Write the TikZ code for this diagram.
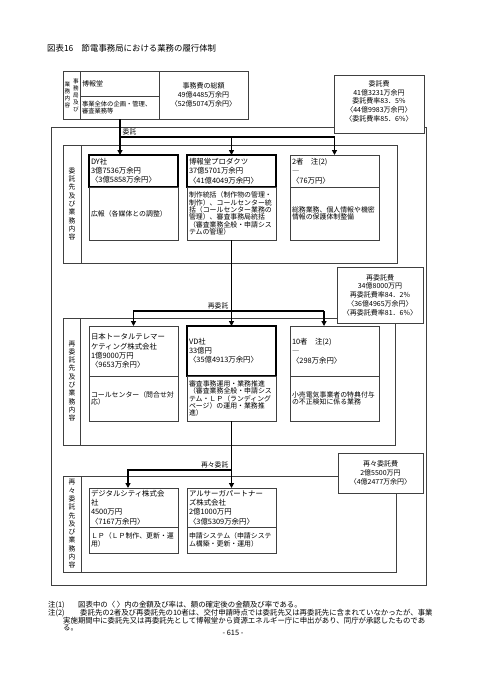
\documentclass[tikz,border=0pt]{standalone}
\usepackage{fontspec}
\setmainfont{Noto Sans CJK JP}
\usetikzlibrary{arrows.meta}

\begin{document}
\begin{tikzpicture}[x=1pt, y=-1pt,
  rule/.style={draw=black!75, line width=0.5pt},
  box/.style={rule, anchor=north west, outer sep=0pt, inner sep=0pt},
  cell/.style={box, inner xsep=2pt, inner ysep=1pt, text width=85pt, align=left},
  hd/.style={cell, font=\fontsize{7.4}{9.2}\selectfont},
  hdbold/.style={hd, draw=black, line width=1.4pt},
  bd/.style={cell, font=\fontsize{6.9}{7.4}\selectfont},
  fee/.style={box, fill=white, inner sep=1pt, align=center, font=\fontsize{7}{8.7}\selectfont},
  tate/.style={align=center, inner sep=0pt, font=\fontsize{6.8}{8.3}\selectfont},
  flow/.style={line width=1.6pt, -{Triangle[length=5pt, width=5pt]}},
  tag/.style={inner sep=0.5pt, font=\fontsize{6.8}{7}\selectfont},
  note/.style={inner sep=0pt, font=\fontsize{7.4}{7.2}\selectfont}
]
\useasboundingbox[fill=white] (0,0) rectangle (478,675);

\node[anchor=west, inner sep=0pt, font=\fontsize{8.4}{9}\selectfont] (title) at (47,48)
  {図表16　節電事務局における業務の履行体制};

% frame and sections
\draw[rule] (51,127) rectangle (426,585);
\draw[rule] (63,145) rectangle (397,263);
\draw[rule] (81,145) -- (81,263);
\draw[rule] (63,318) rectangle (395,445);
\draw[rule] (80.5,318) -- (80.5,445);
\draw[rule] (63,476) rectangle (396,572);
\draw[rule] (81,476) -- (81,572);
\node[tate] (sec1lab) at (72,204) {委\\託\\先\\及\\び\\業\\務\\内\\容};
\node[tate] (sec2lab) at (72,381) {再\\委\\託\\先\\及\\び\\業\\務\\内\\容};
\node[tate] (sec3lab) at (72,524) {再\\々\\委\\託\\先\\及\\び\\業\\務\\内\\容};

% secretariat
\node[box, minimum width=17pt, minimum height=48pt] (hqlab) at (63,71) {};
\node[tate, font=\fontsize{5.6}{7}\selectfont] (hqlab1) at (76,95) {事\\務\\局\\及\\び};
\node[tate, font=\fontsize{5.6}{7}\selectfont] (hqlab2) at (67.5,95) {業\\務\\内\\容};
\node[cell, text width=75pt, minimum height=25pt, font=\fontsize{7}{8}\selectfont] (hqname) at (80,71) {博報堂};
\node[cell, text width=75pt, minimum height=23pt, font=\fontsize{6.3}{7.6}\selectfont] (hqtask) at (80,96)
  {事業全体の企画・管理、\\審査業務等};
\node[box, minimum width=89pt, minimum height=48pt, align=center, font=\fontsize{7}{9}\selectfont] (hqcost) at (159,71)
  {事務費の総額\\49億4485万余円\\〈52億5074万余円〉};

% fees
\node[fee, minimum width=90pt, minimum height=58pt, text depth=6pt] (itakuhi) at (334,75)
  {委託費\\41億3231万余円\\委託費率83．5\%\\〈44億9983万余円〉\\〈委託費率85．6\%〉};
\node[fee, minimum width=86pt, minimum height=56pt] (saihi) at (337,267)
  {再委託費\\34億8000万円\\再委託費率84．2\%\\〈36億4965万余円〉\\〈再委託費率81．6\%〉};
\node[fee, minimum width=85pt, minimum height=40pt] (saisaihi) at (338,453)
  {再々委託費\\2億5500万円\\〈4億2477万余円〉};

% contractors
\node[hdbold, minimum height=32pt] (dyh) at (89,155) {DY社\\3億7536万余円\\〈3億5858万余円〉};
\node[bd, minimum height=53pt] (dyb) at (89,187) {広報（各媒体との調整）};
\node[hdbold, minimum height=32pt] (pdh) at (187,155) {博報堂プロダクツ\\37億5701万余円\\〈41億4049万余円〉};
\node[bd, minimum height=53pt] (pdb) at (187,187)
  {制作統括（制作物の管理・\\制作）、コールセンター統\\括（コールセンター業務の\\管理）、審査事務局統括\\（審査業務全般・申請シス\\テムの管理）};
\node[hd, minimum height=32pt] (twoh) at (290,155) {2者　注(2)\\―\\〈76万円〉};
\node[bd, minimum height=53pt] (twob) at (290,187) {総務業務、個人情報や機密\\情報の保護体制整備};

% subcontractors
\node[hd, minimum height=50pt] (jth) at (89,326) {日本トータルテレマー\\ケティング株式会社\\1億9000万円\\〈9653万余円〉};
\node[bd, minimum height=45pt] (jtb) at (89,376) {コールセンター（問合せ対\\応）};
\node[hdbold, minimum height=50pt] (vdh) at (187,326) {VD社\\33億円\\〈35億4913万余円〉};
\node[bd, minimum height=45pt] (vdb) at (187,376)
  {審査事務運用・業務推進\\（審査業務全般・申請シス\\テム・ＬＰ（ランディング\\ページ）の運用・業務推\\進）};
\node[hd, minimum height=50pt] (tenh) at (290,326) {10者　注(2)\\―\\〈298万余円〉};
\node[bd, minimum height=45pt] (tenb) at (290,376) {小売電気事業者の特典付与\\の不正検知に係る業務};

% sub-subcontractors
\node[hd, minimum height=39pt] (dgh) at (89,488) {デジタルシティ株式会\\社\\4500万円\\〈7167万余円〉};
\node[bd, minimum height=26pt] (dgb) at (89,527) {ＬＰ（ＬＰ制作、更新・運\\用）};
\node[hd, minimum height=39pt] (akh) at (187,488) {アルサーガパートナー\\ズ株式会社\\2億1000万円\\〈3億5309万余円〉};
\node[bd, minimum height=26pt] (akb) at (187,527) {申請システム（申請システ\\ム構築・更新・運用）};

% connectors
\coordinate (j1) at (120,137);
\coordinate (j2) at (324,311);
\coordinate (j3) at (128,470);
\draw[flow] (hqtask.south -| j1) -- (dyh.north -| j1);
\draw[flow] (j1) -| (twoh.north);
\draw[flow] (j1 -| pdh.north) -- (pdh.north);
\node[tag, anchor=south west] (lbl1) at (122,136) {委託};

\draw[flow] (pdb.south) -- (vdh.north);
\draw[flow] (j2) -| (jth.north);
\draw[flow] (j2) -- (tenh.north -| j2);
\node[tag, anchor=south east] (lbl2) at (229,310) {再委託};

\draw[flow] (vdb.south) -- (akh.north);
\draw[flow] (j3 -| vdb.south) -- (j3) -- (dgh.north -| j3);
\node[tag, anchor=south east] (lbl3) at (229,469) {再々委託};

% notes
\node[note, anchor=west] (note1) at (48,605) {注(1)};
\node[note, anchor=west] (note1txt) at (78,605) {図表中の〈 〉内の金額及び率は、額の確定後の金額及び率である。};
\node[note, anchor=west] (note2) at (48,613) {注(2)};
\node[note, anchor=north west, align=left, text width=380pt] (note2txt) at (63,609.5)
  {\hspace*{17pt}委託先の2者及び再委託先の10者は、交付申請時点では委託先又は再委託先に含まれていなかったが、事業\\
   実施期間中に委託先又は再委託先として博報堂から資源エネルギー庁に申出があり、同庁が承認したものであ\\
   る。};
\node[note] (pageno) at (233,633) {- 615 -};
\end{tikzpicture}
\end{document}
